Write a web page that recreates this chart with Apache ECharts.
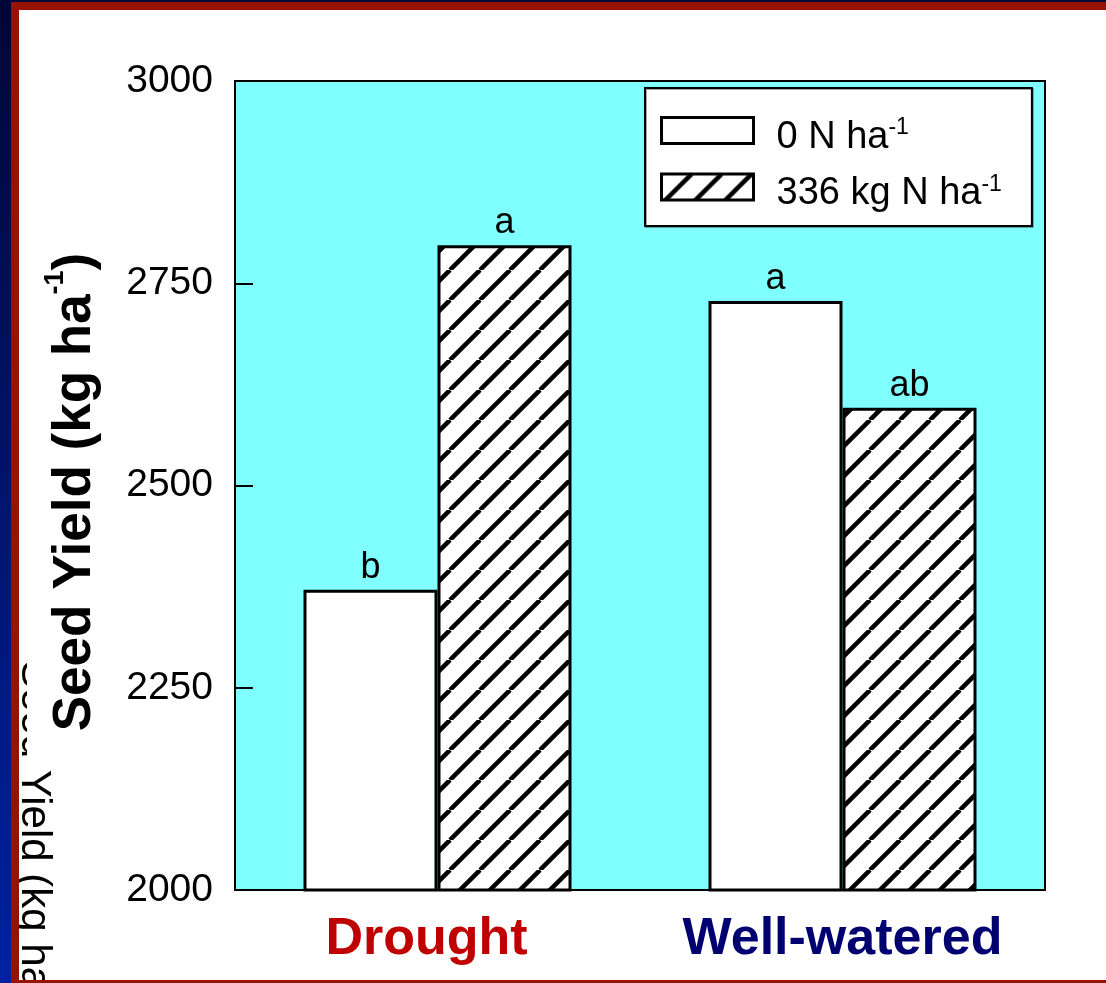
<!DOCTYPE html>
<html>
<head>
<meta charset="utf-8">
<script src="https://cdn.jsdelivr.net/npm/echarts@6/dist/echarts.min.js"></script>
<style>
  html, body { margin: 0; padding: 0; background: #ffffff; }
  #chart { width: 1106px; height: 983px; }
</style>
</head>
<body>
<div id="chart"></div>
<script>
// Seed yield by water regime and nitrogen rate
const categories = ['Drought', 'Well-watered'];
const categoryColors = ['#c00000', '#000070'];
const seriesNames = ['0 N ha', '336 kg N ha'];
const yield0N = [2371, 2728];
const yield336N = [2797, 2596];
const letters0N = ['b', 'a'];
const letters336N = ['a', 'ab'];
const yMin = 2000, yMax = 3000, yStep = 250;

const FONT = 'Arial, "Liberation Sans", Helvetica, sans-serif';

// diagonal hatch tile for the 336 kg N bars
function hatchTile() {
  const p = 30;
  const c = document.createElement('canvas');
  c.width = p; c.height = p;
  const g = c.getContext('2d');
  g.fillStyle = '#ffffff';
  g.fillRect(0, 0, p, p);
  g.strokeStyle = '#000000';
  g.lineWidth = 4.5;
  for (let k = -1; k <= 1; k++) {
    g.beginPath();
    g.moveTo(k * p, p);
    g.lineTo(k * p + p, 0);
    g.stroke();
  }
  return c;
}
const hatch = { image: hatchTile(), repeat: 'repeat' };

const chart = echarts.init(document.getElementById('chart'), null, { renderer: 'canvas' });

const barLabel = (letters) => ({
  show: true,
  position: 'top',
  distance: 4,
  fontFamily: FONT,
  fontSize: 36,
  color: '#000',
  formatter: (p) => letters[p.dataIndex]
});

const option = {
  animation: false,
  backgroundColor: '#ffffff',
  grid: {
    left: 235, right: 61, top: 81, bottom: 93,
    show: true,
    backgroundColor: '#80ffff',
    borderColor: '#000',
    borderWidth: 2
  },
  legend: {
    orient: 'vertical',
    left: 645, top: 88,
    padding: [28, 30, 13, 15],
    itemGap: 16,
    itemWidth: 92, itemHeight: 26,
    icon: 'rect',
    backgroundColor: '#ffffff',
    borderColor: '#000',
    borderWidth: 2,
    shadowColor: 'rgba(0,0,0,0.35)',
    shadowOffsetX: 1, shadowOffsetY: 1,
    itemStyle: { borderColor: '#000', borderWidth: 3 },
    formatter: (name) => '{t|' + name + '}{s|-1}',
    textStyle: {
      padding: [12, 0, 0, 18],
      rich: {
        t: { fontFamily: FONT, fontSize: 38, color: '#000', lineHeight: 40, verticalAlign: 'bottom' },
        s: { fontFamily: FONT, fontSize: 23, color: '#000', lineHeight: 22, verticalAlign: 'top' }
      }
    },
    data: seriesNames
  },
  xAxis: {
    type: 'category',
    data: categories,
    axisLine: { show: true, lineStyle: { color: '#000', width: 2 } },
    axisTick: { show: false },
    axisLabel: {
      margin: 24,
      formatter: (v, i) => '{c' + i + '|' + v + '}',
      rich: {
        c0: { fontFamily: FONT, fontSize: 52, fontWeight: 'bold', color: categoryColors[0], padding: [0, 22, 0, 0] },
        c1: { fontFamily: FONT, fontSize: 52, fontWeight: 'bold', color: categoryColors[1] }
      }
    }
  },
  yAxis: {
    type: 'value',
    min: yMin, max: yMax, interval: yStep,
    axisLine: { show: true, lineStyle: { color: '#000', width: 2 } },
    axisTick: { show: true, inside: true, length: 18, lineStyle: { color: '#000', width: 2 } },
    axisLabel: { fontFamily: FONT, fontSize: 39, color: '#000', margin: 22, formatter: (v) => String(v) },
    splitLine: { show: false }
  },
  series: [
    {
      name: seriesNames[0],
      type: 'bar',
      data: yield0N,
      barWidth: 134,
      barGap: '0%',
      itemStyle: { color: '#ffffff', borderColor: '#000', borderWidth: 3 },
      label: barLabel(letters0N)
    },
    {
      name: seriesNames[1],
      type: 'bar',
      data: yield336N,
      barWidth: 134,
      barGap: '0%',
      itemStyle: { color: hatch, borderColor: '#000', borderWidth: 3 },
      label: barLabel(letters336N)
    }
  ],
  graphic: [
    // faint underlying axis title from the slide beneath
    {
      type: 'text', z: 1,
      x: 13, y: 660, rotation: -Math.PI / 2,
      style: { text: 'Seed Yield (kg ha-1)', fontFamily: FONT, fontSize: 42, fill: '#000', align: 'left', verticalAlign: 'bottom' }
    },
    {
      type: 'rect', z: 2,
      shape: { x: 27, y: 230, width: 90, height: 532 },
      style: { fill: '#ffffff' }
    },
    // y axis title
    {
      type: 'text', z: 3,
      x: 72, y: 492, rotation: Math.PI / 2,
      style: {
        text: '{m|Seed Yield (kg ha}{s|-1}{m|)}',
        align: 'center', verticalAlign: 'middle',
        rich: {
          m: { fontFamily: FONT, fontSize: 53, fontWeight: 'bold', fill: '#000', lineHeight: 60, verticalAlign: 'bottom' },
          s: { fontFamily: FONT, fontSize: 27, fontWeight: 'bold', fill: '#000', lineHeight: 26, verticalAlign: 'top' }
        }
      }
    },
    // slide frame
    {
      type: 'rect', z: 10,
      shape: { x: 0, y: 0, width: 1106, height: 2 },
      style: { fill: '#000836' }
    },
    {
      type: 'rect', z: 10,
      shape: { x: 0, y: 0, width: 11, height: 983 },
      style: {
        fill: new echarts.graphic.LinearGradient(0, 0, 0, 1, [
          { offset: 0, color: '#000636' },
          { offset: 1, color: '#0022a2' }
        ])
      }
    },
    {
      type: 'rect', z: 10,
      shape: { x: 11, y: 2, width: 1095, height: 8 },
      style: { fill: '#981200' }
    },
    {
      type: 'rect', z: 10,
      shape: { x: 11, y: 2, width: 8, height: 981 },
      style: { fill: '#981200' }
    },
    {
      type: 'rect', z: 10,
      shape: { x: 19, y: 980, width: 1087, height: 3 },
      style: { fill: '#981200' }
    }
  ]
};

chart.setOption(option);
</script>
</body>
</html>
